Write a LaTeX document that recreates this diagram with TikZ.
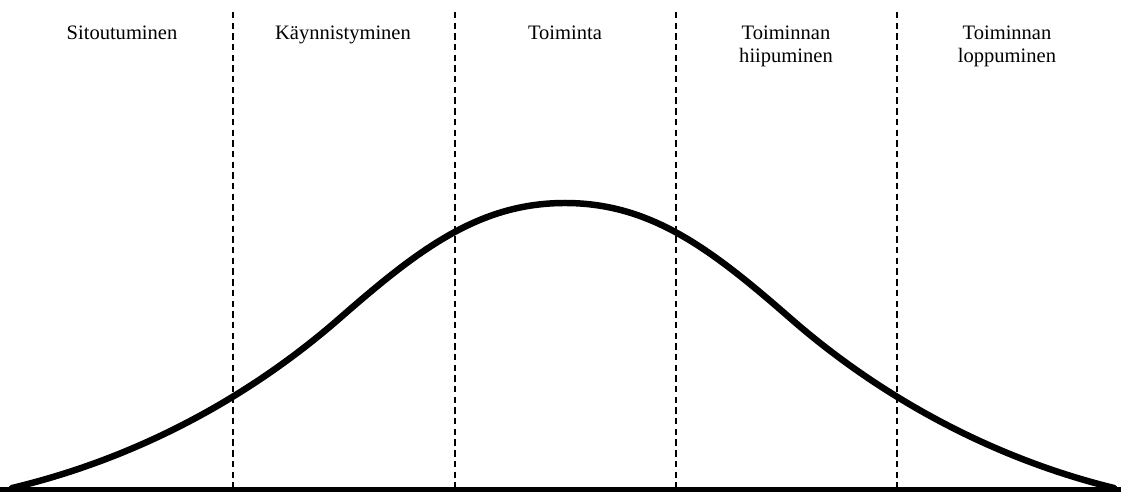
\documentclass[tikz,border=0pt]{standalone}
\usepackage{fontspec}
\setmainfont{Liberation Serif}
\begin{document}
\begin{tikzpicture}[x=0.025cm, y=-0.025cm,
	phase/.style={line width=1.5pt, dash pattern=on 4.5pt off 3.1pt},
	curve/.style={line width=4.6pt, line cap=round},
	title/.style={align=center, anchor=base, inner sep=0pt, font=\fontsize{14.6}{16.3}\selectfont}]
	\useasboundingbox (0,0) rectangle (1121,492);
	\draw[phase] (233,12) -- (233,488);
	\draw[phase] (455,12) -- (455,488);
	\draw[phase] (676,12) -- (676,488);
	\draw[phase] (897,12) -- (897,488);
	
	\draw[line width=3.7pt] (0,489.5) -- (1121,489.5);
	\draw[curve] (12,488) .. controls (150,455) and (260,388) .. (340,318)
		.. controls (420,248) and (480,203) .. (565,203);
	\draw[curve] (565,203) .. controls (650,203) and (710,248) .. (790,318)
		.. controls (870,388) and (980,455) .. (1114,488);
	
	% two-line titles: base anchor sits on the last line
	\node[title] (Si) at (122,39.5){Sitoutuminen};
	\node[title] (Ka) at (343,39.5){Käynnistyminen};
	\node[title] (To) at (565,39.5){Toiminta};
	\node[title] (Hi) at (786,62.4){Toiminnan\\hiipuminen};
	\node[title] (Lo) at (1007,62.4){Toiminnan\\loppuminen};
\end{tikzpicture}
\end{document}
